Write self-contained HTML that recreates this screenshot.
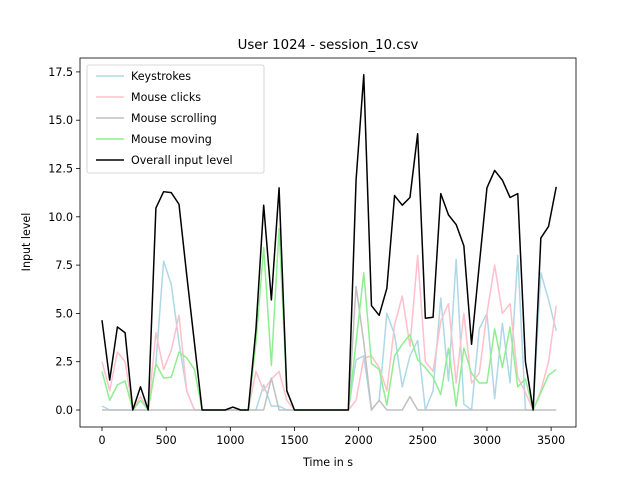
<!DOCTYPE html>
<html><head><meta charset="utf-8"><style>
html,body{margin:0;padding:0;background:#fff;}
svg{display:block;font-family:"DejaVu Sans","Liberation Sans",sans-serif;}
</style></head><body>
<svg id="chart" width="640" height="480" viewBox="0 0 640 480"></svg>
<script>
const times = Array.from({length:60},(_,i)=>i*60);
const keystrokes = [0.2,0,0,0,0,0,0,2.4,7.7,6.5,3.5,1.0,0,0,0,0,0,0,0,0,0,1.3,0.2,0.2,0,0,0,0,0,0,0,0,0,2.6,2.8,0,0.5,5.0,3.9,1.2,2.8,3.6,0,1.0,5.8,1.5,7.8,0.3,0,4.2,5.0,0.6,4.5,1.4,8.0,0,0,7.1,5.7,4.1];
const clicks = [2.5,1.0,3.0,2.5,0,0.7,0,4.0,2.1,3.1,4.9,1.0,0,0,0,0,0,0,0,0,2.0,1.0,1.6,2.0,0.5,0,0,0,0,0,0,0,0,0.5,2.7,2.8,2.2,1.0,4.4,5.9,3.3,8.0,2.5,2.0,4.6,5.5,1.4,5.0,1.4,1.9,5.0,7.5,5.0,5.5,1.7,0.9,0,1.0,2.5,5.4];
const scrolling = [0,0,0,0,0,0,0,0,0,0,0,0,0,0,0,0,0,0,0,0,0,0,1.65,0,0,0,0,0,0,0,0,0,0,6.4,3.5,0,0.5,0,0,0,0.7,0,0,0,0,0,0,0,0,0,0,0,0,0,0,0,0,0,0,0];
const moving = [2.0,0.5,1.3,1.5,0,0.5,0,2.4,1.65,1.7,3.0,2.7,2.1,0,0,0,0,0.15,0,0,3.5,8.4,2.3,9.4,1.0,0,0,0,0,0,0,0,0,3.5,7.1,2.4,2.1,0.25,2.8,3.4,3.9,2.6,2.2,1.7,0.8,3.2,0.2,3.2,1.9,1.4,1.4,4.2,2.2,4.3,1.2,1.6,0,0.9,1.8,2.1];
const overall = [4.65,1.55,4.3,4.0,0,1.2,0,10.45,11.3,11.25,10.65,7.0,3.5,0,0,0,0,0.15,0,0,4.2,10.6,5.7,11.5,1.0,0,0,0,0,0,0,0,0,11.9,17.35,5.4,4.9,6.3,11.1,10.6,11.0,14.3,4.75,4.8,11.2,10.1,9.6,8.5,3.4,7.5,11.5,12.4,11.9,11.0,11.2,2.5,0,8.9,9.5,11.55];
const xTicks = [0,500,1000,1500,2000,2500,3000,3500];
const yTicks = [0,2.5,5,7.5,10,12.5,15,17.5];

const L=80,R=576,T=58,B=427;
const xMin=-171.5,xMax=3694,yMin=-0.88,yMax=18.22;
const xs=v=>L+(v-xMin)/(xMax-xMin)*(R-L);
const ys=v=>B-(v-yMin)/(yMax-yMin)*(B-T);
const svg=document.getElementById('chart');
const NS='http://www.w3.org/2000/svg';
function mk(tag,attrs,parent){const e=document.createElementNS(NS,tag);for(const k in attrs)e.setAttribute(k,attrs[k]);(parent||svg).appendChild(e);return e;}

const series=[
 {name:'Keystrokes',data:keystrokes,color:'#add8e6',id:'keystrokes'},
 {name:'Mouse clicks',data:clicks,color:'#ffc0cb',id:'mouse-clicks'},
 {name:'Mouse scrolling',data:scrolling,color:'#c0c0c0',id:'mouse-scrolling'},
 {name:'Mouse moving',data:moving,color:'#90ee90',id:'mouse-moving'},
 {name:'Overall input level',data:overall,color:'#000000',id:'overall'}
];
series.forEach(s=>{
  const p=mk('polyline',{points:s.data.map((v,i)=>xs(times[i]).toFixed(2)+','+ys(v).toFixed(2)).join(' '),fill:'none',stroke:s.color,'stroke-width':1.5,'stroke-linejoin':'round'});
  
  
});
const frame=mk('rect',{x:L,y:T,width:R-L,height:B-T,fill:'none',stroke:'#000','stroke-width':0.8});


xTicks.forEach(t=>{
  const x=xs(t);
  mk('line',{x1:x,x2:x,y1:B,y2:B+4,stroke:'#000','stroke-width':0.8});
  const tx=mk('text',{x:x,y:B+17,'text-anchor':'middle','font-size':11.1});
  tx.textContent=t;
  
  
});
yTicks.forEach(t=>{
  const y=ys(t);
  mk('line',{x1:L-4,x2:L,y1:y,y2:y,stroke:'#000','stroke-width':0.8});
  const tx=mk('text',{x:L-7,y:y+4,'text-anchor':'end','font-size':11.1});
  tx.textContent=t.toFixed(1);
  
  
});
const title=mk('text',{x:328,y:49,'text-anchor':'middle','font-size':13.3});
title.textContent='User 1024 - session_10.csv';


const xl=mk('text',{x:328,y:466,'text-anchor':'middle','font-size':11.1});
xl.textContent='Time in s';


const yl=mk('text',{x:30,y:242,'text-anchor':'middle','font-size':11.1,transform:'rotate(-90 30 242)'});
yl.textContent='Input level';


const lg=mk('g',{});


mk('rect',{x:87,y:65,width:177,height:108,rx:2,fill:'#fff','fill-opacity':0.8,stroke:'#ccc','stroke-width':0.8},lg);
series.forEach((s,i)=>{
  const y=76+i*21;
  const g=mk('g',{},lg);
  
  
  mk('line',{x1:96,x2:124,y1:y,y2:y,stroke:s.color,'stroke-width':1.5},g);
  const t=mk('text',{x:131,y:y+4,'font-size':11.1},g);
  t.textContent=s.name;
});
</script>
</body></html>
